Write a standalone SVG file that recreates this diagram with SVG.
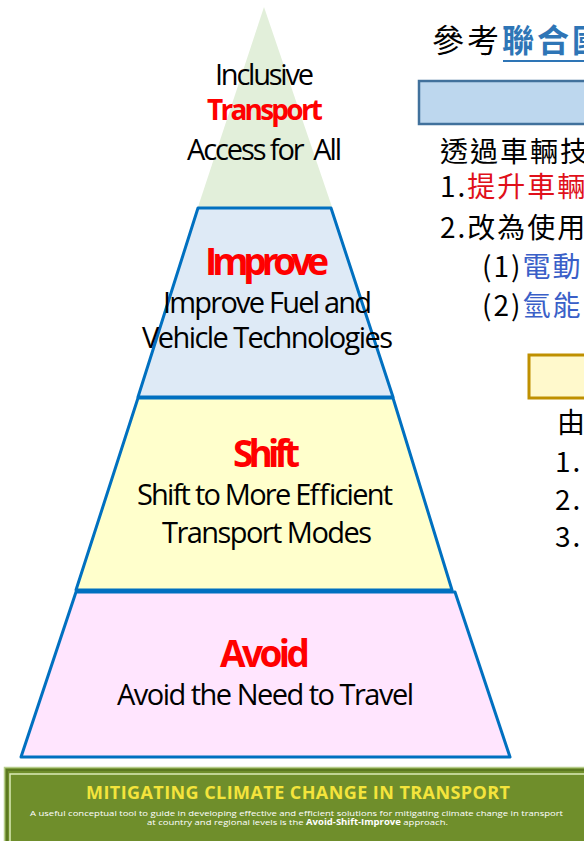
<svg xmlns="http://www.w3.org/2000/svg" width="584" height="841" viewBox="0 0 584 841">
<style>
.lvl{stroke:#0070c0;stroke-width:3;stroke-linejoin:round}
.en{font-family:"Open Sans","Noto Sans",sans-serif;font-size:29px;fill:#000;text-anchor:middle}
.hd{font-family:"Open Sans","Noto Sans",sans-serif;font-size:37px;font-weight:bold;fill:#ff0000;text-anchor:middle}
.zh{font-family:"Noto Sans CJK TC","Noto Sans",sans-serif;font-size:28px;letter-spacing:2px;fill:#000}
.red{fill:#e0101a}
.blue{fill:#3a5fc8}
.sub{font-family:"Open Sans","Noto Sans",sans-serif;font-size:8px;fill:#ffffff;text-anchor:middle}
</style>
<rect width="584" height="841" fill="#ffffff"/>

<g id="apex">
<polygon points="264,7 198,207 332,207" fill="#e2efda"/>
<text class="en" x="264.5" y="85" textLength="99" lengthAdjust="spacing">Inclusive</text>
<text class="en" x="265" y="120" style="fill:#ff0000;font-size:28px;font-weight:bold" textLength="116" lengthAdjust="spacing">Transport</text>
<text class="en" x="264.5" y="160" textLength="155" lengthAdjust="spacing" xml:space="preserve">Access for  All</text>
</g>

<g id="improve">
<polygon class="lvl" points="198,208 331,208 393,397 138,397" fill="#deeaf6"/>
<text class="hd" x="267" y="275" textLength="124" lengthAdjust="spacing">Improve</text>
<text class="en" x="267.5" y="313" textLength="209" lengthAdjust="spacing">Improve Fuel and</text>
<text class="en" x="267.5" y="348" textLength="251" lengthAdjust="spacing">Vehicle Technologies</text>
</g>

<g id="shift">
<polygon class="lvl" points="138,398 393,398 452,590 76,590" fill="#ffffcc"/>
<text class="hd" x="266.5" y="467" textLength="67" lengthAdjust="spacing">Shift</text>
<text class="en" x="265" y="505" textLength="256" lengthAdjust="spacing">Shift to More Efficient</text>
<text class="en" x="267" y="543" textLength="210" lengthAdjust="spacing">Transport Modes</text>
</g>

<g id="avoid">
<polygon class="lvl" points="76,592 455,592 510,757 21,757" fill="#ffe5fe"/>
<text class="hd" x="265" y="667" textLength="90" lengthAdjust="spacing">Avoid</text>
<text class="en" x="265.5" y="705" textLength="297" lengthAdjust="spacing">Avoid the Need to Travel</text>
</g>

<g id="banner">
<rect x="4.5" y="767.5" width="600" height="80" fill="#6f8e2b" stroke="#b7cd8c" stroke-width="1.5"/>
<rect x="7" y="770" width="600" height="80" fill="none" stroke="#5b7820" stroke-width="2"/>
<rect x="10" y="774" width="600" height="80" fill="none" stroke="#dcebb8" stroke-width="1.5"/>
<text x="298" y="799" font-family="'Open Sans','Noto Sans',sans-serif" font-size="18" font-weight="bold" fill="#f4e43c" text-anchor="middle" textLength="424" lengthAdjust="spacing">MITIGATING CLIMATE CHANGE IN TRANSPORT</text>
<text class="sub" x="296.5" y="816" textLength="533" lengthAdjust="spacingAndGlyphs">A useful conceptual tool to guide in developing effective and efficient solutions for mitigating climate change in transport</text>
<text class="sub" x="297.5" y="824.5" textLength="301" lengthAdjust="spacingAndGlyphs">at country and regional levels is the <tspan font-weight="bold">Avoid-Shift-Improve</tspan> approach.</text>
</g>

<g id="reference-title">
<text x="432" y="52" font-family="'Noto Sans CJK TC','Noto Sans',sans-serif" font-size="32" letter-spacing="3" fill="#000">參考<tspan fill="#2e75b6" font-weight="bold">聯合國</tspan></text>
<line x1="503" y1="61" x2="584" y2="61" stroke="#2e75b6" stroke-width="2"/>
</g>

<g id="improve-box">
<rect x="419" y="81" width="180" height="43" fill="#bdd7ee" stroke="#41719c" stroke-width="2.5"/>
<text class="zh" x="440" y="162">透過車輛技術</text>
<text class="zh" x="440" y="197">1.<tspan class="red">提升車輛能源</tspan></text>
<text class="zh" x="440" y="238">2.改為使用低碳</text>
<text class="zh" x="482" y="277">(1)<tspan class="blue">電動</tspan></text>
<text class="zh" x="482" y="316">(2)<tspan class="blue">氫能</tspan></text>
</g>

<g id="shift-box">
<rect x="529" y="355" width="70" height="43" fill="#fff9cc" stroke="#bf9000" stroke-width="3"/>
<text class="zh" x="557" y="433">由</text>
<text class="zh" x="555" y="472">1.</text>
<text class="zh" x="555" y="510">2.</text>
<text class="zh" x="555" y="547">3.</text>
</g>
</svg>
